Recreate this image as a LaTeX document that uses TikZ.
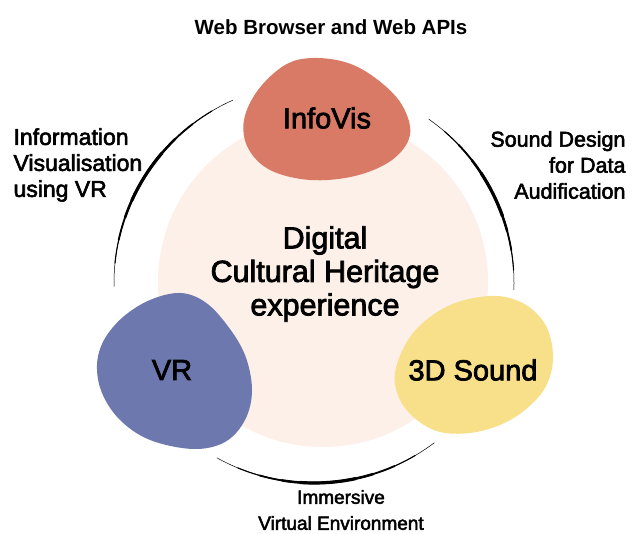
\documentclass[tikz,border=0pt]{standalone}
\usepackage{fontspec}
\setmainfont{Liberation Sans}
\newfontfamily\mediumfont{Liberation Sans}[FakeBold=2.5]
\usetikzlibrary{positioning,calc}

\definecolor{heritagebg}{RGB}{252,240,232}
\definecolor{infoviscol}{RGB}{216,122,102}
\definecolor{vrcol}{RGB}{109,121,174}
\definecolor{soundcol}{RGB}{248,224,138}

% tapered stroke along the outer ring: thin ends, heavier middle
\newcommand{\brusharc}[2]{%
  \foreach \w/\f in {0.5/0, 1.1/0.1, 1.8/0.2, 2.5/0.3, 3.2/0.38}{
    \draw[line width=\w pt, line cap=round] ($(ring)+({#1+\f*(#2-#1)}:200)$) arc[start angle={#1+\f*(#2-#1)}, end angle={#2-\f*(#2-#1)}, radius=200];
  }}

\begin{document}
\begin{tikzpicture}[x=1pt, y=1pt,
  blobtext/.style={font=\mediumfont\fontsize{29}{34}\selectfont},
  sidetext/.style={font=\mediumfont\fontsize{21.5}{26}\selectfont},
  blobfill/.style={smooth cycle, tension=0.6}]
\useasboundingbox (0,0) rectangle (632,534);

% shared centre
\node[circle, fill=heritagebg, minimum size=330pt, inner sep=0pt] (hub) at (323,252) {};
\node[align=center, font=\mediumfont\fontsize{30.5}{33.5}\selectfont] (hubtext) at (325,260) {Digital\\Cultural Heritage\\experience};

% outer ring strokes
\coordinate (ring) at (314,251);
\brusharc{114}{181}
\brusharc{55}{-2}
\brusharc{241}{307}

% the three blobs
\fill[infoviscol] plot[blobfill] coordinates {(313,476) (285,469) (258,444) (244,414) (248,386) (270,364) (310,354) (355,358) (392,374) (410,399) (402,429) (378,454) (348,471)};
\node[blobtext] (infovis) at (327,416) {InfoVis};
\fill[vrcol] plot[blobfill] coordinates {(180,241) (150,234) (123,217) (104,194) (97,169) (102,141) (120,114) (150,94) (193,85) (225,92) (245,114) (252,144) (245,179) (227,209) (205,232)};
\node[blobtext] (vr) at (172,164) {VR};
\fill[soundcol] plot[blobfill] coordinates {(490,238) (458,232) (430,217) (408,194) (395,161) (400,134) (417,114) (440,102) (470,101) (500,109) (525,124) (545,146) (553,174) (548,204) (533,224) (513,235)};
\node[blobtext] (sound) at (473,164) {3D Sound};

% labels between the blobs
\node[font=\bfseries\fontsize{20.5}{24}\selectfont] (web) at (331,507) {Web Browser and Web APIs};
\node[sidetext, font=\mediumfont\fontsize{23}{26}\selectfont, align=left, anchor=west] (infovr) at (10,369) {Information\\Visualisation\\using VR};
\node[sidetext, align=right, anchor=east] (audif) at (629,369) {Sound Design\\for Data\\Audification};
\node[align=center, font=\mediumfont\fontsize{19}{26}\selectfont] (immersive) at (341,24) {Immersive\\Virtual Environment};
\end{tikzpicture}
\end{document}
